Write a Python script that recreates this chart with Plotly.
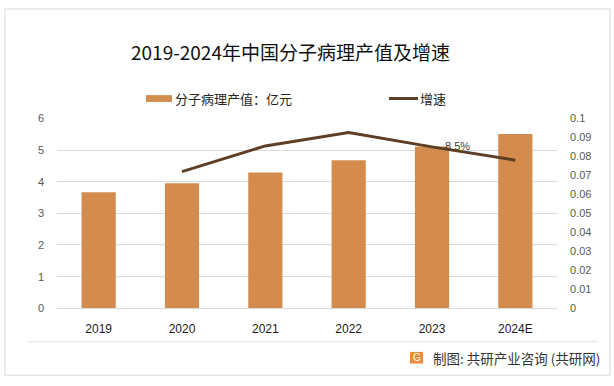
import plotly.graph_objects as go

categories = ["2019", "2020", "2021", "2022", "2023", "2024E"]
output_values = [3.67, 3.95, 4.29, 4.68, 5.11, 5.51]
growth_values = [None, 0.072, 0.0855, 0.0925, 0.085, 0.078]
label_index = 4
label_text = "8.5%"
left_ticks = [0, 1, 2, 3, 4, 5, 6]
right_ticks = [0, 0.01, 0.02, 0.03, 0.04, 0.05, 0.06, 0.07, 0.08, 0.09, 0.1]
right_tick_text = ["0", "0.01", "0.02", "0.03", "0.04", "0.05", "0.06", "0.07", "0.08", "0.09", "0.1"]

W, H = 614, 386
BAR_COLOR = "#D38B4E"
LINE_COLOR = "#5E3E24"
CJK = "Noto Sans CJK SC"
NUM = "Liberation Sans"

def px(x):
    return x / W

def py(y):
    return 1 - y / H

fig = go.Figure()
fig.add_trace(go.Bar(
    x=categories, y=output_values, name="分子病理产值：亿元",
    marker=dict(color=BAR_COLOR, line=dict(width=0)), width=0.41,
    showlegend=False, yaxis="y",
))
fig.add_trace(go.Scatter(
    x=categories, y=growth_values, name="增速", mode="lines",
    line=dict(color=LINE_COLOR, width=3),
    showlegend=False, yaxis="y2", connectgaps=False,
))

fig.update_layout(
    width=W, height=H,
    margin=dict(l=0, r=0, t=0, b=0),
    paper_bgcolor="white", plot_bgcolor="white",
    xaxis=dict(
        domain=[px(57), px(557)], type="category", range=[-0.5, len(categories) - 0.5],
        showgrid=False, showline=True, linecolor="#d9d9d9", linewidth=1,
        ticks="", tickfont=dict(family=NUM, size=12, color="#1a1a1a"),
        ticklabelstandoff=9,
    ),
    yaxis=dict(
        domain=[py(312), py(116)], range=[0, 6], tickvals=left_ticks,
        showgrid=True, gridcolor="#d9d9d9", gridwidth=1, zeroline=False,
        showline=False, ticks="", tickfont=dict(family=NUM, size=11, color="#595959"),
        ticklabelstandoff=12,
    ),
    yaxis2=dict(
        overlaying="y", side="right", range=[0, 0.1], tickvals=right_ticks,
        ticktext=right_tick_text, showgrid=False, zeroline=False, showline=False,
        ticks="", tickfont=dict(family=NUM, size=11, color="#595959"),
        ticklabelstandoff=12, anchor="x",
    ),
    font=dict(family=CJK),
)

shapes = [
    dict(type="rect", xref="paper", yref="paper", x0=px(5), x1=px(610), y0=py(381), y1=py(3),
         line=dict(color="#d9d9d9", width=1), fillcolor="rgba(0,0,0,0)", layer="below"),
    dict(type="line", xref="paper", yref="paper", x0=px(27), x1=px(598), y0=py(346.5), y1=py(346.5),
         line=dict(color="#e3e3e3", width=1)),
    dict(type="rect", xref="paper", yref="paper", x0=px(146), x1=px(172), y0=py(99), y1=py(92),
         line=dict(width=0), fillcolor=BAR_COLOR),
    dict(type="line", xref="paper", yref="paper", x0=px(389), x1=px(418), y0=py(95.5), y1=py(95.5),
         line=dict(color=LINE_COLOR, width=3)),
    dict(type="rect", xref="paper", yref="paper", x0=px(410), x1=px(423), y0=py(369), y1=py(357),
         line=dict(width=0), fillcolor="#F08A3C"),
]

annotations = [
    dict(text="2019-2024年中国分子病理产值及增速", x=px(290), y=py(47), xref="paper", yref="paper",
         showarrow=False, font=dict(family=CJK, size=19, color="#111111"), xanchor="center", yanchor="middle"),
    dict(text="分子病理产值：亿元", x=px(173), y=py(95.5), xref="paper", yref="paper",
         showarrow=False, font=dict(family=CJK, size=13, color="#262626"), xanchor="left", yanchor="middle"),
    dict(text="增速", x=px(418), y=py(95.5), xref="paper", yref="paper",
         showarrow=False, font=dict(family=CJK, size=13, color="#262626"), xanchor="left", yanchor="middle"),
    dict(text="G", x=px(416.5), y=py(363), xref="paper", yref="paper",
         showarrow=False, font=dict(family=NUM, size=10, color="white"), xanchor="center", yanchor="middle"),
    dict(text="制图: 共研产业咨询 (共研网)", x=px(431), y=py(363), xref="paper", yref="paper",
         showarrow=False, font=dict(family=CJK, size=13.5, color="#333333"), xanchor="left", yanchor="middle"),
    dict(text=label_text, x=label_index, y=growth_values[label_index], xref="x", yref="y2",
         showarrow=False, font=dict(family=NUM, size=11, color="#404040"),
         xanchor="left", yanchor="middle", xshift=11, yshift=1),
]

fig.update_layout(shapes=shapes, annotations=annotations)
fig.write_html("out.html", config={"responsive": False, "displayModeBar": False},
               post_script="document.body.style.margin='0';document.body.style.overflow='hidden';")
